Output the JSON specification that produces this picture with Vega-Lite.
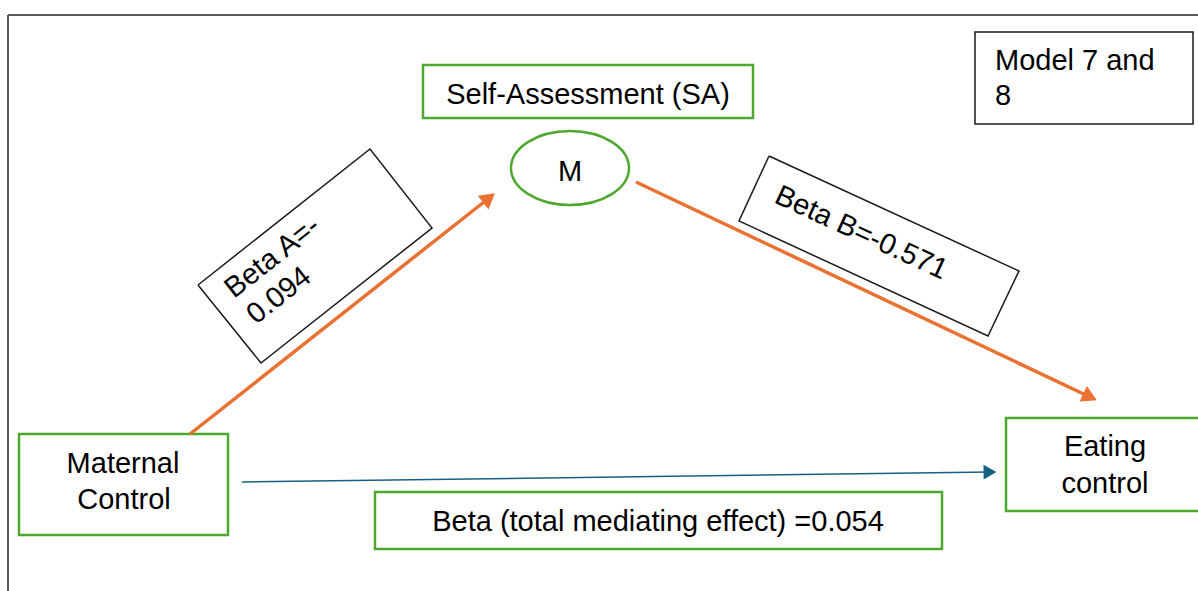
{
  "$schema": "https://vega.github.io/schema/vega-lite/v6.json",
  "width": 1198,
  "height": 591,
  "autosize": {"type": "none"},
  "padding": 0,
  "background": "white",
  "config": {"view": {"stroke": null}},
  "datasets": {
    "frame": [
      {"x": 8, "y": 15, "x2": 1198, "y2": 15},
      {"x": 8, "y": 15, "x2": 8, "y2": 591}
    ],
    "greenBoxes": [
      {"name": "Self-Assessment (SA)", "x": 423, "x2": 753, "y": 65, "y2": 118},
      {"name": "Maternal Control", "x": 19, "x2": 228, "y": 434, "y2": 535},
      {"name": "Eating control", "x": 1006, "x2": 1202, "y": 418, "y2": 511},
      {"name": "Beta (total mediating effect)", "x": 375, "x2": 942, "y": 492, "y2": 549}
    ],
    "modelBox": [
      {"name": "Model 7 and 8", "x": 975, "x2": 1193, "y": 32, "y2": 124}
    ],
    "tiltedBoxes": [
      {"box": "A", "ord": 0, "x": 198, "y": 285},
      {"box": "A", "ord": 1, "x": 370, "y": 149},
      {"box": "A", "ord": 2, "x": 432, "y": 228},
      {"box": "A", "ord": 3, "x": 261, "y": 363},
      {"box": "A", "ord": 4, "x": 198, "y": 285},
      {"box": "B", "ord": 0, "x": 769, "y": 156},
      {"box": "B", "ord": 1, "x": 1019, "y": 271},
      {"box": "B", "ord": 2, "x": 988, "y": 336},
      {"box": "B", "ord": 3, "x": 739, "y": 221},
      {"box": "B", "ord": 4, "x": 769, "y": 156}
    ],
    "pathArrows": [
      {"path": "a", "x": 190, "y": 434, "x2": 489, "y2": 198},
      {"path": "b", "x": 636, "y": 182, "x2": 1090, "y2": 397}
    ],
    "pathHeads": [
      {"path": "a", "x": 489, "y": 198, "heading": 51.7},
      {"path": "b", "x": 1090, "y": 397, "heading": 115.3}
    ],
    "directArrow": [
      {"path": "c", "x": 242, "y": 482, "x2": 990, "y2": 472}
    ],
    "directHead": [
      {"path": "c", "x": 990, "y": 472, "heading": 89.2}
    ],
    "mediator": [
      {"name": "M", "x": 570, "y": 168}
    ],
    "centerText": [
      {"text": "Self-Assessment (SA)", "x": 588, "y": 104},
      {"text": "M", "x": 570, "y": 181},
      {"text": "Maternal", "x": 123, "y": 473},
      {"text": "Control", "x": 124, "y": 509},
      {"text": "Eating", "x": 1105, "y": 456},
      {"text": "control", "x": 1105, "y": 493},
      {"text": "Beta (total mediating effect) =0.054", "x": 658, "y": 531}
    ],
    "leftText": [
      {"text": "Model 7 and", "x": 995, "y": 70},
      {"text": "8", "x": 995, "y": 105}
    ],
    "textA": [
      {"text": "Beta A=-", "x": 234, "y": 299},
      {"text": "0.094", "x": 256, "y": 325}
    ],
    "textB": [
      {"text": "Beta B=-0.571", "x": 773, "y": 202}
    ]
  },
  "encoding": {
    "x": {"field": "x", "type": "quantitative", "scale": {"domain": [0, 1198], "nice": false, "zero": false}, "axis": null},
    "y": {"field": "y", "type": "quantitative", "scale": {"domain": [0, 591], "nice": false, "zero": false, "reverse": true}, "axis": null}
  },
  "layer": [
    {
      "data": {"name": "frame"},
      "mark": {"type": "rule", "color": "#5a5a5a", "strokeWidth": 2},
      "encoding": {"x2": {"field": "x2"}, "y2": {"field": "y2"}}
    },
    {
      "data": {"name": "greenBoxes"},
      "mark": {"type": "rect", "fill": "white", "fillOpacity": 0, "stroke": "#4EA72E", "strokeWidth": 2.5},
      "encoding": {"x2": {"field": "x2"}, "y2": {"field": "y2"}}
    },
    {
      "data": {"name": "modelBox"},
      "mark": {"type": "rect", "fill": "white", "fillOpacity": 0, "stroke": "#1a1a1a", "strokeWidth": 1.5},
      "encoding": {"x2": {"field": "x2"}, "y2": {"field": "y2"}}
    },
    {
      "data": {"name": "tiltedBoxes"},
      "mark": {"type": "line", "color": "#1a1a1a", "strokeWidth": 1.5},
      "encoding": {
        "detail": {"field": "box", "type": "nominal"},
        "order": {"field": "ord", "type": "quantitative"}
      }
    },
    {
      "data": {"name": "pathArrows"},
      "mark": {"type": "rule", "color": "#E97132", "strokeWidth": 3.5},
      "encoding": {"x2": {"field": "x2"}, "y2": {"field": "y2"}}
    },
    {
      "data": {"name": "pathHeads"},
      "mark": {"type": "point", "shape": "triangle-up", "filled": true, "opacity": 1, "color": "#E97132", "size": 300},
      "encoding": {"angle": {"field": "heading", "type": "quantitative", "scale": null}}
    },
    {
      "data": {"name": "directArrow"},
      "mark": {"type": "rule", "color": "#156082", "strokeWidth": 1.5},
      "encoding": {"x2": {"field": "x2"}, "y2": {"field": "y2"}}
    },
    {
      "data": {"name": "directHead"},
      "mark": {"type": "point", "shape": "triangle-up", "filled": true, "opacity": 1, "color": "#156082", "size": 220},
      "encoding": {"angle": {"field": "heading", "type": "quantitative", "scale": null}}
    },
    {
      "data": {"name": "mediator"},
      "mark": {"type": "point", "shape": "M-1,0A1,0.627,0,1,0,1,0A1,0.627,0,1,0,-1,0Z", "filled": false, "opacity": 1, "stroke": "#4EA72E", "strokeWidth": 2.5, "size": 13924}
    },
    {
      "data": {"name": "centerText"},
      "mark": {"type": "text", "font": "Liberation Sans", "fontSize": 29, "color": "#000000", "align": "center", "baseline": "alphabetic"},
      "encoding": {"text": {"field": "text"}}
    },
    {
      "data": {"name": "leftText"},
      "mark": {"type": "text", "font": "Liberation Sans", "fontSize": 29, "color": "#000000", "align": "left", "baseline": "alphabetic"},
      "encoding": {"text": {"field": "text"}}
    },
    {
      "data": {"name": "textA"},
      "mark": {"type": "text", "font": "Liberation Sans", "fontSize": 29, "color": "#000000", "align": "left", "baseline": "alphabetic", "angle": 321.7},
      "encoding": {"text": {"field": "text"}}
    },
    {
      "data": {"name": "textB"},
      "mark": {"type": "text", "font": "Liberation Sans", "fontSize": 29, "color": "#000000", "align": "left", "baseline": "alphabetic", "angle": 24.7},
      "encoding": {"text": {"field": "text"}}
    }
  ]
}
